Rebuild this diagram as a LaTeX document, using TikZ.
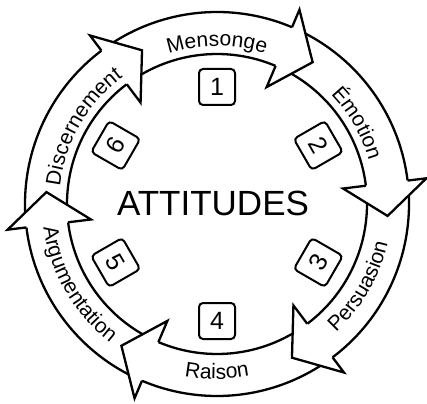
\documentclass[tikz,border=0pt]{standalone}
\usepackage{fontspec}
\setmainfont{Liberation Sans}
\usetikzlibrary{decorations.text}
\newcommand{\labfont}{\fontsize{21}{21}\selectfont}

\begin{document}
\begin{tikzpicture}[x=1pt,y=1pt,line width=2.3pt,line join=miter,
    numbox/.style={draw,line width=2pt,rounded corners=4pt,minimum size=36pt,
      inner sep=0pt,font=\fontsize{25}{25}\selectfont}]
  \useasboundingbox (-217,-199) rectangle (210,204);
  \foreach \k in {0,...,5}{
    \pgfmathsetmacro\tip{56-60*\k}
    \pgfmathsetmacro\base{\tip+11}
    \pgfmathsetmacro\tail{\tip+69.5}
    \draw[fill=white] (\base:192) arc[start angle=\base,end angle=\tail,radius=192]
      -- (\tail:150) arc[start angle=\tail,end angle=\base,radius=150];
  }
  \foreach \k in {0,...,5}{
    \pgfmathsetmacro\tip{56-60*\k}
    \pgfmathsetmacro\base{\tip+11}
    \draw[fill=white] (\base:150) -- (\base:127) -- (\tip:171) -- (\base:211) -- (\base:192);
  }
  \path[decorate,decoration={text along path,text align=center,text={|\labfont|Mensonge}}]
    (130:158) arc[start angle=130,end angle=50,radius=158];
  \path[decorate,decoration={text along path,text align=center,text={|\labfont|{É}motion}}]
    (70:158) arc[start angle=70,end angle=-10,radius=158];
  \path[decorate,decoration={text along path,text align=center,text={|\labfont|Discernement}}]
    (190:158) arc[start angle=190,end angle=110,radius=158];
  \path[decorate,decoration={text along path,text align=center,text={|\labfont|Persuasion}}]
    (-70:175) arc[start angle=-70,end angle=10,radius=175];
  \path[decorate,decoration={text along path,text align=center,text={|\labfont|Raison}}]
    (-130:175) arc[start angle=-130,end angle=-50,radius=175];
  \path[decorate,decoration={text along path,text align=center,text={|\labfont|Argumentation}}]
    (-190:175) arc[start angle=-190,end angle=-110,radius=175];
  \foreach \n/\a/\r in {1/90/0,2/30/-60,3/-30/60,4/-90/0,5/-150/-60,6/150/60}
    \node[numbox,rotate=\r] (box\n) at (\a:117) {\n};
  \node[font=\fontsize{35}{35}\selectfont] (attitudes) at (-4,1) {ATTITUDES};
\end{tikzpicture}
\end{document}
